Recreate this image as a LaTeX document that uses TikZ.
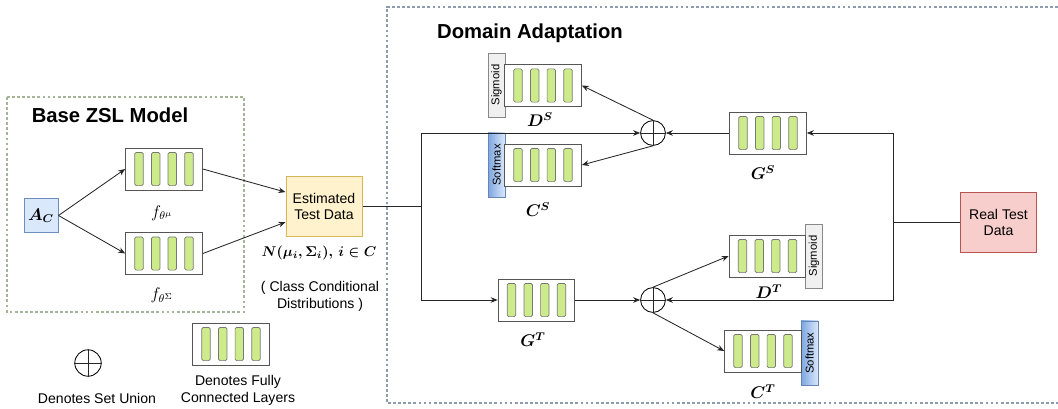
\documentclass[tikz,border=0pt]{standalone}
\usepackage{amsmath,amssymb}
\usepackage{fontspec}
\setmainfont{Liberation Sans}
\usetikzlibrary{arrows.meta,positioning,calc}
\definecolor{fcgreen}{HTML}{CDEB8B}
\definecolor{fcedge}{HTML}{555555}
\definecolor{inblue}{HTML}{DAE8FC}
\definecolor{inblueedge}{HTML}{6C8EBF}
\definecolor{estfill}{HTML}{FFF2CC}
\definecolor{estedge}{HTML}{D6B656}
\definecolor{realfill}{HTML}{F8CECC}
\definecolor{realedge}{HTML}{B85450}
\definecolor{tabgray}{HTML}{F0F0F0}
\definecolor{softtop}{HTML}{DAE8FC}
\definecolor{softbot}{HTML}{7EA6E0}
\definecolor{zslframe}{HTML}{A6B59A}
\definecolor{daframe}{HTML}{8E9BAE}

% fully connected block: frame node #1 at #2, four bars inside
\newcommand{\fcblock}[2]{%
  \node[fcbox] (#1) at (#2) {};
  \foreach \k/\off in {1/-25,2/-8.3,3/8.3,4/25}
    \node[fcbar] (#1-bar\k) at ($(#1.center)+(\off,0)$) {};
}

\begin{document}
\begin{tikzpicture}[x=0.025cm, y=-0.025cm, font=\normalsize,
  line/.style={line width=0.6pt, black!85},
  arr/.style={line, -{Stealth[length=5pt,width=4pt]}},
  fcbox/.style={draw=fcedge, line width=0.6pt, fill=white,
    minimum width=1.92cm, minimum height=1.05cm, inner sep=0pt},
  fcbar/.style={draw=fcedge!80, fill=fcgreen, rounded corners=1pt,
    line width=0.5pt, minimum width=0.21cm, minimum height=0.83cm, inner sep=0pt},
  sigtab/.style={draw=fcedge!70, fill=tabgray, rotate=90, line width=0.5pt,
    minimum width=1.6cm, minimum height=0.42cm, inner sep=0pt, font=\footnotesize},
  softtab/.style={draw=softbot!80!black, left color=softbot, right color=softtop,
    rotate=90, line width=0.5pt,
    minimum width=1.6cm, minimum height=0.42cm, inner sep=0pt, font=\footnotesize},
  databox/.style={draw, line width=0.7pt, minimum width=1.9cm, minimum height=1.48cm,
    align=center, inner sep=2pt},
  union/.style={circle, draw, line width=0.6pt, minimum size=0.62cm, inner sep=0pt},
  frame/.style={dash pattern=on 2pt off 1.6pt, line width=0.8pt},
  mlab/.style={font=\large},
  title/.style={font=\Large\bfseries}]
\useasboundingbox (0,0) rectangle (1058,408);

% ---- frames ----
\draw[frame, zslframe] (7,97) rectangle (244,312);
\draw[frame, daframe] (1058,7) -- (387,7) -- (387,403) -- (1058,403);
\node[title] (zsltitle) at (110,115) {Base ZSL Model};
\node[title] (datitle) at (530,33) {Domain Adaptation};

% ---- base ZSL model ----
\node[draw=inblueedge, fill=inblue, line width=0.7pt, minimum width=0.85cm,
  minimum height=0.87cm, inner sep=0pt, mlab] (ac) at (41,215.5) {$\boldsymbol{A_C}$};
\fcblock{fmu}{164,169}
\fcblock{fsig}{164,253.5}
\node[mlab] (fmulab) at (162,213) {$f_{\theta^{\mu}}$};
\node[mlab] (fsiglab) at (162,295) {$f_{\theta^{\Sigma}}$};
\node[databox, draw=estedge, fill=estfill] (est) at (324,206.5) {Estimated\\Test Data};
\node (estlab) at (319,253) {$\boldsymbol{N(\mu_i,\Sigma_i),\, i\in C}$};
\node[align=center] (estnote) at (320,296.5) {( Class Conditional\\Distributions )};

\draw[arr] (ac.east) -- (fmu.west);
\draw[arr] (ac.east) -- (fsig.west);
\draw[arr] (fmu.east) -- ([yshift=0.36cm]est.west);
\draw[arr] (fsig.east) -- ([yshift=-0.39cm]est.west);

% ---- source branch ----
\node[union] (us) at (653,133) {};
\draw[line] (us.north) -- (us.south) (us.west) -- (us.east);
\node[sigtab] (ds-act) at (496.5,85) {Sigmoid};
\fcblock{ds}{543,85.5}
\node[softtab] (cs-act) at (496.5,165) {Softmax};
\fcblock{cs}{543,165}
\fcblock{gs}{768,133}
\node[mlab] (dslab) at (540,120) {$\boldsymbol{D^S}$};
\node[mlab] (cslab) at (538,210) {$\boldsymbol{C^S}$};
\node[mlab] (gslab) at (763,173) {$\boldsymbol{G^S}$};

% ---- target branch ----
\node[union] (ut) at (653,300) {};
\draw[line] (ut.north) -- (ut.south) (ut.west) -- (ut.east);
\fcblock{gt}{536.5,300}
\node[sigtab] (dt-act) at (814,256) {Sigmoid};
\fcblock{dt}{767.5,256}
\node[softtab] (ct-act) at (809.5,353) {Softmax};
\fcblock{ct}{763,351}
\node[mlab] (gtlab) at (533,340) {$\boldsymbol{G^T}$};
\node[mlab] (dtlab) at (769,292) {$\boldsymbol{D^T}$};
\node[mlab] (ctlab) at (763,392) {$\boldsymbol{C^T}$};

\node[databox, draw=realedge, fill=realfill] (real) at (998.5,222.5) {Real Test\\Data};

% ---- connectors ----
\coordinate (split) at (421,206.5);
\coordinate (rsplit) at (893,222.5);
\draw[line] (est.east) -- (split);
\draw[arr] (split) |- (us.west);
\draw[arr] (split) |- (gt.west);
\draw[line] (real.west) -- (rsplit);
\draw[arr] (rsplit) |- (gs.east);
\draw[arr] (rsplit) |- (ut.east);
\draw[arr] (gs.west) -- (us.east);
\draw[arr] (us.north) -- (ds.east);
\draw[arr] (us.south) -- (cs.east);
\draw[arr] (gt.east) -- (ut.west);
\draw[arr] (ut.north) -- (dt.west);
\draw[arr] (ut.south) -- (ct.west);

% ---- legend ----
\node[union, minimum size=0.66cm] (legu) at (88,363) {};
\draw[line] (legu.north) -- (legu.south) (legu.west) -- (legu.east);
\node (legulab) at (97,398) {Denotes Set Union};
\fcblock{legfc}{231,344}
\node[align=center] (legfclab) at (238,390.5) {Denotes Fully\\Connected Layers};
\end{tikzpicture}
\end{document}
